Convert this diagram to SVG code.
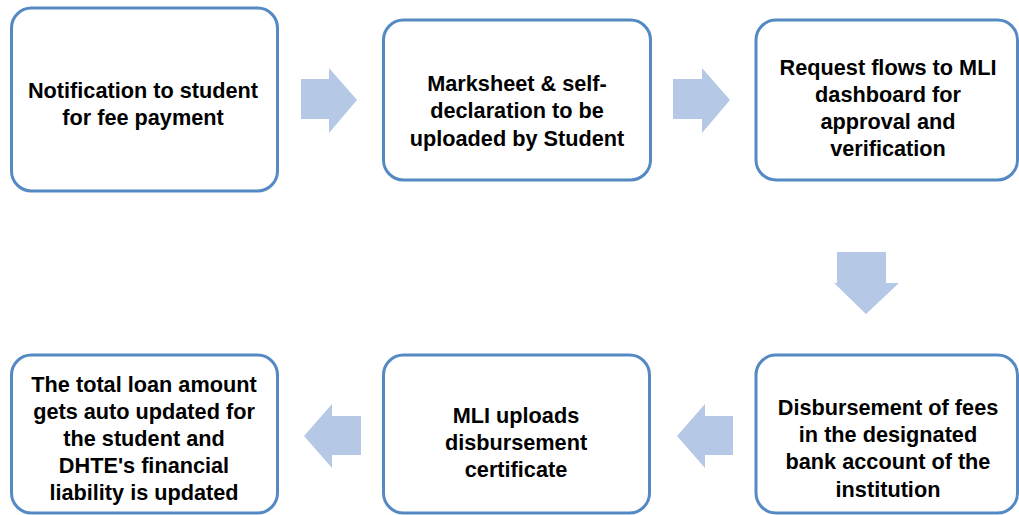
<svg xmlns="http://www.w3.org/2000/svg" width="1019" height="515" viewBox="0 0 1019 515">
<style>
.box{fill:#ffffff;stroke:#5589c3;stroke-width:3}
.arrow{fill:#b5c9e6;stroke:none}
text{font-family:"Liberation Sans",Arial,sans-serif;font-weight:bold;font-size:21.7px;fill:#000;text-anchor:middle}
</style>
<rect width="1019" height="515" fill="#ffffff"/>
<g id="connectors">
<polygon class="arrow" points="301,79 329,79 329,68 357,100 329,133 329,119 301,119"/>
<polygon class="arrow" points="673,79 702,79 702,68 730,100 702,133 702,119 673,119"/>
<polygon class="arrow" points="837,252 886,252 886,283 899,283 866,314 834,283 837,283"/>
<polygon class="arrow" points="733,416 705,416 705,404 677,436 705,468 705,455 733,455"/>
<polygon class="arrow" points="361,416 332,416 332,404 304,436 332,468 332,455 361,455"/>
</g>
<g id="node1">
<rect class="box" x="11.5" y="8" width="266" height="183" rx="20"/>
<text x="143" y="98">Notification to student</text>
<text x="143" y="125">for fee payment</text>
</g>
<g id="node2">
<rect class="box" x="383.5" y="20" width="267" height="160" rx="20"/>
<text x="517" y="91">Marksheet &amp; self-</text>
<text x="517" y="118">declaration to be</text>
<text x="517" y="146">uploaded by Student</text>
</g>
<g id="node3">
<rect class="box" x="756" y="20" width="261.5" height="160" rx="20"/>
<text x="888" y="75">Request flows to MLI</text>
<text x="888" y="102">dashboard for</text>
<text x="888" y="129">approval and</text>
<text x="888" y="156">verification</text>
</g>
<g id="node6">
<rect class="box" x="756" y="355" width="261.5" height="158" rx="20"/>
<text x="888" y="415">Disbursement of fees</text>
<text x="888" y="442">in the designated</text>
<text x="888" y="469">bank account of the</text>
<text x="888" y="497">institution</text>
</g>
<g id="node4">
<rect class="box" x="383.5" y="355" width="266" height="158" rx="20"/>
<text x="516" y="423">MLI uploads</text>
<text x="516" y="450">disbursement</text>
<text x="516" y="477">certificate</text>
</g>
<g id="node5">
<rect class="box" x="11.5" y="355" width="266" height="158" rx="20"/>
<text x="144" y="392">The total loan amount</text>
<text x="144" y="419">gets auto updated for</text>
<text x="144" y="446">the student and</text>
<text x="144" y="473">DHTE's financial</text>
<text x="144" y="500">liability is updated</text>
</g>
</svg>
